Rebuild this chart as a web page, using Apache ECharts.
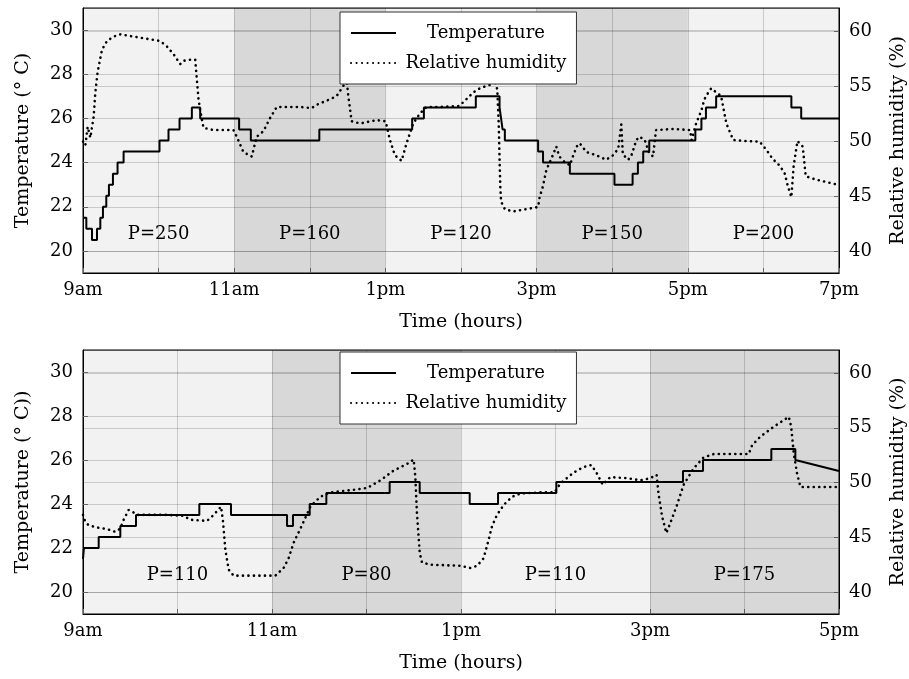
<!DOCTYPE html>
<html>
<head>
<meta charset="utf-8">
<script src="https://cdn.jsdelivr.net/npm/echarts@6/dist/echarts.min.js"></script>
<style>
  html, body { margin: 0; padding: 0; background: #fff; }
  #chart { width: 909px; height: 679px; }
</style>
</head>
<body>
<div id="chart"></div>
<script>
// ---------- Top panel (9am - 7pm) ----------
const topTickLabels = ['9am', '11am', '1pm', '3pm', '5pm', '7pm'];
const topBandStart = [9, 11, 13, 15, 17];
const topBandEnd = [11, 13, 15, 17, 19];
const topBandLabel = ['P=250', 'P=160', 'P=120', 'P=150', 'P=200'];
const topBandDark = [false, true, false, true, false];

// temperature: times where the step level changes and the new level
const topTempTimes = [9.0, 9.044, 9.119, 9.185, 9.229, 9.264, 9.308, 9.343, 9.396, 9.457,
  9.537, 10.012, 10.131, 10.277, 10.44, 10.55, 11.065, 11.22, 12.126, 13.354,
  13.509, 14.196, 14.51, 14.53, 14.55, 14.58, 15.02, 15.085, 15.44, 16.03,
  16.27, 16.34, 16.41, 16.49, 17.1, 17.18, 17.24, 17.375, 18.37, 18.5];
const topTempValues = [21.5, 21, 20.5, 21, 21.5, 22, 22.5, 23, 23.5, 24,
  24.5, 25, 25.5, 26, 26.5, 26, 25.5, 25, 25.5, 26,
  26.5, 27, 26.5, 26, 25.5, 25, 24.5, 24, 23.5, 23,
  23.5, 24, 24.5, 25, 25.5, 26, 26.5, 27, 26.5, 26];
const topTempEnd = [19.0, 26];

const topHumTimes = [9.0, 9.031, 9.062, 9.097, 9.141, 9.163, 9.194, 9.251, 9.317, 9.405,
  9.493, 9.669, 9.845, 10.022, 10.11, 10.198, 10.286, 10.33, 10.418, 10.484,
  10.506, 10.528, 10.55, 10.594, 10.726, 10.99, 11.034, 11.122, 11.232, 11.299,
  11.387, 11.475, 11.563, 11.871, 12.025, 12.091, 12.267, 12.355, 12.443, 12.487,
  12.509, 12.553, 12.664, 12.884, 13.003, 13.06, 13.126, 13.214, 13.28, 13.368,
  13.456, 13.544, 13.72, 13.98, 14.07, 14.16, 14.22, 14.29, 14.38, 14.44,
  14.48, 14.5, 14.51, 14.52, 14.53, 14.58, 14.69, 14.86, 15.02, 15.04,
  15.08, 15.13, 15.19, 15.26, 15.3, 15.37, 15.44, 15.48, 15.53, 15.57,
  15.66, 15.79, 15.92, 16.01, 16.08, 16.12, 16.14, 16.21, 16.25, 16.32,
  16.36, 16.43, 16.49, 16.54, 16.58, 16.8, 17.03, 17.05, 17.11, 17.18,
  17.22, 17.27, 17.31, 17.38, 17.44, 17.51, 17.6, 17.77, 17.95, 18.04,
  18.12, 18.21, 18.28, 18.32, 18.37, 18.4, 18.45, 18.52, 18.56, 18.69,
  19.0];
const topHumValues = [49.95, 49.6, 51.3, 50.3, 52.2, 54.4, 56.3, 58.3, 59.1, 59.5,
  59.7, 59.5, 59.3, 59.1, 58.6, 57.9, 57.0, 57.3, 57.4, 57.4,
  55.6, 53.8, 52.8, 51.2, 51.0, 51.0, 50.4, 49.0, 48.6, 50.4,
  50.9, 52.1, 53.1, 53.1, 53.0, 53.3, 53.8, 54.1, 55.0, 55.6,
  54.1, 51.8, 51.6, 51.9, 51.8, 50.1, 48.7, 48.2, 49.8, 51.6,
  52.5, 53.1, 53.1, 53.2, 53.8, 54.4, 54.7, 54.9, 55.1, 55.6,
  54.7, 51.3, 48.3, 45.8, 44.5, 43.8, 43.6, 43.8, 44.0, 44.9,
  45.8, 47.4, 48.3, 49.5, 48.6, 48.1, 47.8, 48.6, 49.5, 49.8,
  49.0, 48.7, 48.3, 48.7, 49.3, 51.5, 48.8, 48.3, 48.6, 50.1,
  50.4, 50.1, 48.9, 48.6, 51.0, 51.1, 51.0, 50.1, 51.6, 52.8,
  53.8, 54.4, 54.8, 54.4, 54.1, 51.6, 50.1, 50.0, 49.95, 49.2,
  48.4, 47.8, 47.1, 46.0, 44.9, 47.7, 50.0, 49.5, 46.8, 46.5,
  46.0];

// ---------- Bottom panel (9am - 5pm) ----------
const botTickLabels = ['9am', '11am', '1pm', '3pm', '5pm'];
const botBandStart = [9, 11, 13, 15];
const botBandEnd = [11, 13, 15, 17];
const botBandLabel = ['P=110', 'P=80', 'P=110', 'P=175'];
const botBandDark = [false, true, false, true];

const botTempTimes = [9.0, 9.01, 9.166, 9.395, 9.561, 10.231, 10.566, 11.159, 11.222, 11.399,
  11.575, 12.245, 12.563, 13.092, 13.392, 14.009, 15.349, 15.561, 16.284, 16.538];
const botTempValues = [21.5, 22, 22.5, 23, 23.5, 24, 23.5, 23, 23.5, 24,
  24.5, 25, 24.5, 24, 24.5, 25, 25.5, 26, 26.5, 26];
const botTempEnd = [17.0, 25.5];

const botHumTimes = [9.0, 9.025, 9.06, 9.148, 9.254, 9.342, 9.395, 9.43, 9.483, 9.529,
  9.571, 9.889, 10.065, 10.136, 10.312, 10.383, 10.46, 10.48, 10.506, 10.541,
  10.594, 10.806, 11.035, 11.123, 11.176, 11.229, 11.317, 11.406, 11.511, 11.617,
  11.829, 12.005, 12.146, 12.288, 12.429, 12.499, 12.517, 12.534, 12.563, 12.587,
  12.675, 12.993, 13.099, 13.17, 13.24, 13.293, 13.328, 13.381, 13.452, 13.54,
  13.628, 13.84, 13.99, 14.05, 14.12, 14.19, 14.29, 14.38, 14.44, 14.5,
  14.58, 14.76, 14.9, 15.004, 15.07, 15.09, 15.128, 15.173, 15.215, 15.286,
  15.356, 15.462, 15.568, 15.675, 15.851, 16.045, 16.08, 16.169, 16.31, 16.416,
  16.469, 16.494, 16.522, 16.557, 16.592, 16.734, 17.0];
const botHumValues = [47.05, 46.4, 46.1, 45.9, 45.75, 45.5, 45.8, 46.6, 47.5, 47.3,
  47.05, 47.05, 46.96, 46.6, 46.5, 47.05, 47.8, 46.6, 43.9, 42.06,
  41.5, 41.5, 41.5, 42.2, 43.1, 44.5, 46.1, 47.8, 48.7, 49.1,
  49.3, 49.5, 50.2, 51.1, 51.7, 52.1, 50.5, 47.2, 43.6, 42.7,
  42.5, 42.4, 42.2, 42.4, 43.1, 44.8, 46.0, 47.05, 47.96, 48.7,
  49.0, 49.1, 49.1, 49.9, 50.4, 50.9, 51.4, 51.6, 50.8, 49.8,
  50.5, 50.4, 50.2, 50.4, 50.7, 49.0, 46.9, 45.4, 46.3, 47.96,
  49.8, 51.3, 52.3, 52.6, 52.6, 52.6, 53.4, 54.2, 55.1, 55.7,
  56.0, 55.1, 52.6, 50.8, 49.6, 49.6, 49.6];

const labelLevel = 20.75;   // temperature level where the P=... labels sit
const tempRange = [19, 31];
const humRange = [38, 62.1];

// ---------- helpers ----------
const FONT = 'DejaVu Serif';
function stepPoints(times, values, end) {
  const pts = [];
  for (let i = 0; i < times.length; i++) {
    if (i > 0) pts.push([times[i], values[i - 1]]);
    pts.push([times[i], values[i]]);
  }
  pts.push([end[0], end[1]]);
  return pts;
}
function zip(a, b) { return a.map((v, i) => [v, b[i]]); }

const dotted = [0.1, 5.4];

function panel(idx, bandStart, bandEnd, bandLabel, bandDark,
               tempT, tempV, tempEnd, humT, humV) {
  const xi = idx, yT = idx * 2, yH = idx * 2 + 1;
  return [
    {
      name: 'bands', type: 'scatter', xAxisIndex: xi, yAxisIndex: yT, z: 1, silent: true,
      symbolSize: 0, itemStyle: { opacity: 1 },
      data: bandStart.map((s, i) => [(s + bandEnd[i]) / 2, labelLevel]),
      label: {
        show: true, position: 'inside', color: '#000', opacity: 1,
        fontFamily: FONT, fontSize: 18,
        formatter: p => bandLabel[p.dataIndex]
      },
      markArea: {
        silent: true,
        data: bandStart.map((s, i) => [
          { xAxis: s, itemStyle: { color: bandDark[i] ? 'rgba(0,0,0,0.105)' : 'rgba(0,0,0,0)' } },
          { xAxis: bandEnd[i] }
        ])
      }
    },
    {
      name: 'Temperature', type: 'line', xAxisIndex: xi, yAxisIndex: yT, z: 3,
      symbol: 'none', showSymbol: false, animation: false,
      lineStyle: { color: '#000', width: 2 },
      itemStyle: { color: '#000' },
      data: stepPoints(tempT, tempV, tempEnd)
    },
    {
      name: 'Relative humidity', type: 'line', xAxisIndex: xi, yAxisIndex: yH, z: 3,
      symbol: 'none', showSymbol: false, animation: false,
      lineStyle: { color: '#000', width: 2.6, type: dotted, cap: 'round' },
      itemStyle: { color: '#000' },
      data: zip(humT, humV)
    }
  ];
}

const gridLine = { show: true, lineStyle: { color: 'rgba(0,0,0,0.17)', width: 1 } };
const tick = { show: true, inside: true, length: 5, lineStyle: { color: '#666' } };
const lbl = { color: '#000', fontFamily: FONT, fontSize: 18 };
const nameStyle = { color: '#000', fontFamily: FONT, fontSize: 19 };

function xAxis(idx, min, max, labels) {
  return {
    gridIndex: idx, type: 'value', min: min, max: max, interval: 1,
    name: 'Time (hours)', nameLocation: 'middle', nameGap: 40, nameTextStyle: nameStyle,
    axisLine: { show: true, lineStyle: { color: '#000', width: 1 } },
    axisTick: tick, splitLine: gridLine,
    axisLabel: Object.assign({}, lbl, {
      margin: 8,
      formatter: v => {
        const k = (v - min) / 2;
        return Number.isInteger(k) ? labels[k] : '';
      }
    })
  };
}
function yAxes(idx, tempName) {
  return [
    {
      gridIndex: idx, type: 'value', position: 'left', min: tempRange[0], max: tempRange[1],
      minInterval: 2, maxInterval: 2,
      name: tempName, nameLocation: 'middle', nameGap: 50, nameTextStyle: nameStyle,
      axisLine: { show: true, lineStyle: { color: '#000', width: 1 } },
      axisTick: tick, splitLine: gridLine,
      axisLabel: Object.assign({}, lbl, { margin: 10, showMinLabel: false, showMaxLabel: false })
    },
    {
      gridIndex: idx, type: 'value', position: 'right', min: humRange[0], max: humRange[1],
      minInterval: 5, maxInterval: 5,
      name: 'Relative humidity (%)', nameLocation: 'middle', nameGap: 50, nameTextStyle: nameStyle,
      axisLine: { show: true, lineStyle: { color: '#000', width: 1 } },
      axisTick: tick, splitLine: gridLine,
      axisLabel: Object.assign({}, lbl, { margin: 10, showMinLabel: false, showMaxLabel: false })
    }
  ];
}
function legend(top) {
  return {
    orient: 'vertical', left: 340, top: top,
    data: ['Temperature', 'Relative humidity'],
    itemWidth: 45, itemHeight: 14, itemGap: 12,
    padding: [12, 10, 12, 10],
    backgroundColor: '#fff', borderColor: '#333', borderWidth: 1, borderRadius: 0,
    selectedMode: false,
    itemStyle: { opacity: 0 },
    formatter: n => '{c|' + n + '}',
    textStyle: {
      color: '#000', fontFamily: FONT, fontSize: 18,
      rich: { c: { width: 170, align: 'center', color: '#000', fontFamily: FONT, fontSize: 18 } }
    }
  };
}

const option = {
  animation: false,
  textStyle: { fontFamily: FONT },
  grid: [
    { left: 83, top: 8, width: 756, height: 265, show: true, backgroundColor: '#f2f2f2',
      borderColor: '#000', borderWidth: 1, containLabel: false, outerBoundsMode: 'none' },
    { left: 83, top: 350, width: 756, height: 264, show: true, backgroundColor: '#f2f2f2',
      borderColor: '#000', borderWidth: 1, containLabel: false, outerBoundsMode: 'none' }
  ],
  legend: [legend(12), legend(352)],
  xAxis: [xAxis(0, 9, 19, topTickLabels), xAxis(1, 9, 17, botTickLabels)],
  yAxis: yAxes(0, 'Temperature (° C)').concat(yAxes(1, 'Temperature (° C))')),
  series: panel(0, topBandStart, topBandEnd, topBandLabel, topBandDark,
                topTempTimes, topTempValues, topTempEnd, topHumTimes, topHumValues)
    .concat(panel(1, botBandStart, botBandEnd, botBandLabel, botBandDark,
                botTempTimes, botTempValues, botTempEnd, botHumTimes, botHumValues))
};

const chart = echarts.init(document.getElementById('chart'), null, { renderer: 'canvas' });
chart.setOption(option);
</script>
</body>
</html>
